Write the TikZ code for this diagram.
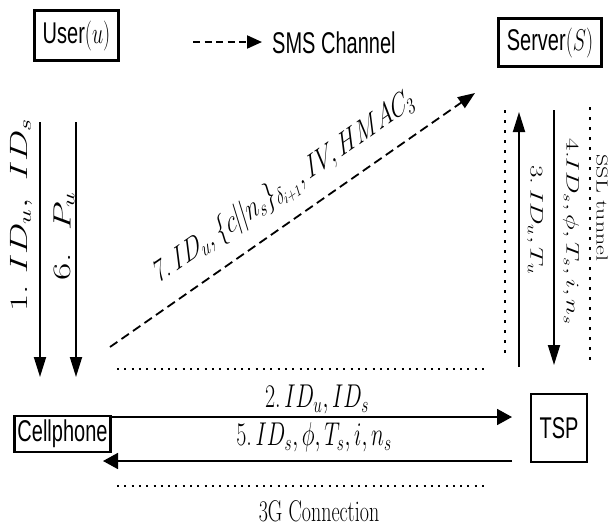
\documentclass[tikz,border=0pt]{standalone}
\usepackage{fix-cm}
\usepackage{fontspec}
\newfontfamily\helv{Liberation Sans}
\usetikzlibrary{arrows.meta}

\tikzset{
  boxnode/.style={draw, line width=2.6pt, inner sep=0pt, yscale=1.5,
    font=\helv\fontsize{20}{22}\selectfont},
  lbl/.style={inner sep=0pt, font=\fontsize{22}{24}\selectfont},
  flow/.style={line width=1.8pt},
  vtip/.style={-{Triangle[length=20pt,width=12pt]}},
  htip/.style={-{Triangle[length=15pt,width=16pt]}},
  sms/.style={line width=1.8pt, dash pattern=on 9pt off 5pt},
  hdots/.style={line width=2pt, dash pattern=on 2pt off 5.3pt},
  vdots/.style={line width=2pt, dash pattern=on 2.5pt off 7.5pt},
}

\begin{document}
\begin{tikzpicture}[x=1pt, y=-1pt]
  \useasboundingbox (0,0) rectangle (611,528);

  % parties
  \node[boxnode, minimum width=84pt, minimum height=33.3pt] (user) at (76.5,35.5) {User$(u)$};
  \node[boxnode, minimum width=103pt, minimum height=32pt] (server) at (550,42.5) {Server$(S)$};
  \node[boxnode, minimum width=96pt, minimum height=24pt] (cell) at (62.5,434) {Cellphone};
  \node[boxnode, line width=2.2pt, minimum width=56pt, minimum height=45.3pt] (tsp) at (559,428) {TSP};

  % legend
  \coordinate (lgA) at (193,42);
  \coordinate (lgB) at (262,42);
  \draw[line width=2pt, dash pattern=on 7pt off 4.5pt, -{Triangle[length=15pt,width=13pt]}] (lgA) -- (lgB);
  \node[anchor=west, inner sep=0pt, yscale=1.5, font=\helv\fontsize{20}{22}\selectfont] (smslbl) at (272,43) {SMS Channel};

  % user -> cellphone
  \coordinate (a1s) at (40,122);  \coordinate (a1e) at (40,377);
  \coordinate (a6s) at (76,122);  \coordinate (a6e) at (76,377);
  \draw[flow, vtip] (a1s) -- (a1e);
  \draw[flow, vtip] (a6s) -- (a6e);
  \node[lbl, font=\fontsize{25}{27}\selectfont, yscale=1.5, rotate=90] (l1) at (21,215) {1.\ $ID_u,\ ID_s$};
  \node[lbl, font=\fontsize{25}{27}\selectfont, yscale=1.5, rotate=90] (l6) at (64,236) {6.\ \ $P_u$};

  % SSL tunnel between server and TSP
  \coordinate (t1a) at (505,110); \coordinate (t1b) at (505,360);
  \coordinate (t2a) at (590,107); \coordinate (t2b) at (590,360);
  \draw[vdots] (t1a) -- (t1b);
  \draw[vdots] (t2a) -- (t2b);
  \coordinate (a3s) at (519,367); \coordinate (a3e) at (519,112);
  \coordinate (a4s) at (554,110); \coordinate (a4e) at (554,365);
  \draw[flow, vtip] (a3s) -- (a3e);
  \draw[flow, vtip] (a4s) -- (a4e);
  \node[lbl, font=\fontsize{18}{20}\selectfont, yscale=1.5, rotate=-90] (l4) at (571,232) {4.$ID_s,\phi,T_s,i,n_s$};
  \node[lbl, font=\fontsize{18}{20}\selectfont, yscale=1.5, rotate=-90] (l3) at (535,220) {3.\,$ID_u,T_u$};
  \node[lbl, font=\fontsize{16}{18}\selectfont, yscale=1.5, rotate=-90] (ssl) at (602,208) {SSL tunnel};

  % SMS message to the server
  \coordinate (a7s) at (110,347); \coordinate (a7e) at (475,93);
  \draw[sms, -{Triangle[length=17pt,width=13pt]}] (a7s) -- (a7e);
  \node[lbl, yscale=1.5, rotate=24.8] (l7) at (285,188)
    {7.\,$ID_u,\{c||n_s\}_{\delta_{i+1}},IV,HMAC_3$};

  % 3G connection between cellphone and TSP
  \coordinate (d1a) at (117,369); \coordinate (d1b) at (485,369);
  \coordinate (d2a) at (117,486); \coordinate (d2b) at (485,486);
  \draw[hdots] (d1a) -- (d1b);
  \draw[hdots] (d2a) -- (d2b);
  \coordinate (a2s) at (112,417); \coordinate (a2e) at (512,417);
  \coordinate (a5s) at (512,461); \coordinate (a5e) at (103,461);
  \draw[flow, htip] (a2s) -- (a2e);
  \draw[flow, htip] (a5s) -- (a5e);
  \node[lbl, yscale=1.5] (l2) at (317,399) {2.\,$ID_u,ID_s$};
  \node[lbl, yscale=1.5] (l5) at (314,437) {5.\,$ID_s,\phi,T_s,i,n_s$};
  \node[lbl, font=\fontsize{20}{22}\selectfont, yscale=1.5] (g3) at (319,511) {3G Connection};
\end{tikzpicture}
\end{document}
